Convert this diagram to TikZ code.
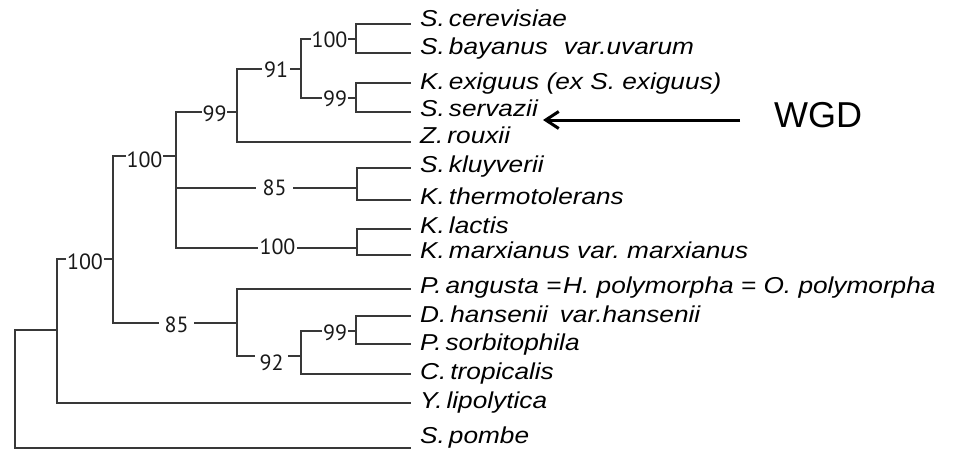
\documentclass[tikz,border=0pt]{standalone}
\usepackage{fontspec}
\setmainfont{Liberation Sans}
\newfontfamily\numfont{PT Sans}
\usetikzlibrary{arrows.meta}
\newcommand\gsp{\kern3.5pt}
\newcommand\spx[1]{\scalebox{1.14}[1]{#1}}
\frenchspacing
\begin{document}
\begin{tikzpicture}[x=1pt,y=-1pt,
  br/.style={line width=1.4pt,draw=black!78,line cap=rect},
  lab/.style={font=\numfont\fontsize{22}{24}\selectfont,inner ysep=0pt,inner xsep=1.5pt,text=black!90},
  sp/.style={font=\itshape\fontsize{23}{26}\selectfont,anchor=base west,inner sep=0pt}]
\useasboundingbox (0,0) rectangle (959,452);
% leaf tips
\coordinate (t1) at (410,24);
\coordinate (t2) at (410,53);
\coordinate (t3) at (410,83);
\coordinate (t4) at (410,112);
\coordinate (t5) at (410,142);
\coordinate (t6) at (410,168);
\coordinate (t7) at (410,200);
\coordinate (t8) at (410,229);
\coordinate (t9) at (410,255);
\coordinate (t10) at (410,289);
\coordinate (t11) at (410,316);
\coordinate (t12) at (410,344);
\coordinate (t13) at (410,374);
\coordinate (t14) at (410,403);
\coordinate (t15) at (410,448);
% internal nodes
\coordinate (G) at (356,39);
\coordinate (H) at (356,98);
\coordinate (F) at (301,69);
\coordinate (E) at (237,112);
\coordinate (K1) at (357,188);
\coordinate (K2) at (357,248);
\coordinate (C) at (176,156);
\coordinate (J) at (356,331);
\coordinate (I) at (301,356);
\coordinate (D) at (237,323);
\coordinate (B) at (113,259);
\coordinate (A) at (57,330);
\coordinate (R) at (15,330);
% species names
\node[sp] (n1) at (420,27) {\spx{S.\gsp cerevisiae}};
\node[sp] (n2) at (420,55) {\spx{S.\gsp bayanus\hspace{0.6em}var.uvarum}};
\node[sp] (n3) at (420,89) {\spx{K.\gsp exiguus (ex S. exiguus)}};
\node[sp] (n4) at (420,117) {\spx{S.\gsp servazii}};
\node[sp] (n5) at (420,143) {\spx{Z.\gsp rouxii}};
\node[sp] (n6) at (420,172) {\spx{S.\gsp kluyverii}};
\node[sp] (n7) at (420,204) {\spx{K.\gsp thermotolerans}};
\node[sp] (n8) at (420,233) {\spx{K.\gsp lactis}};
\node[sp] (n9) at (420,258) {\spx{K.\gsp marxianus var. marxianus}};
\node[sp] (n10) at (420,293) {\spx{P.\gsp angusta =\kern1.5pt H. polymorpha = O. polymorpha}};
\node[sp] (n11) at (420,322) {\spx{D.\gsp hansenii\hspace{0.45em}var.hansenii}};
\node[sp] (n12) at (420,350) {\spx{P.\gsp sorbitophila}};
\node[sp] (n13) at (420,379) {\spx{C.\gsp tropicalis}};
\node[sp] (n14) at (420,408) {\spx{Y.\gsp lipolytica}};
\node[sp] (n15) at (420,443) {\spx{S.\gsp pombe}};
% support labels
\node[lab] (lA) at (85,262) {100};
\node[lab] (lB) at (144.5,159.5) {100};
\node[lab,inner xsep=6pt] (lB85) at (176.5,325) {85};
\node[lab] (lC99) at (214.5,113.5) {99};
\node[lab,inner xsep=7pt] (lC85) at (274.5,187.5) {85};
\node[lab,inner xsep=2.5pt] (lC100) at (277.5,246.5) {100};
\node[lab,inner xsep=3pt] (lE91) at (276,70) {91};
\node[lab] (lF100) at (329.5,39.5) {100};
\node[lab] (lF99) at (335,98.5) {99};
\node[lab,inner xsep=5pt] (lD92) at (271.5,362.5) {92};
\node[lab] (lI99) at (335,333) {99};
% verticals
\draw[br] (G |- t1) -- (G |- t2);
\draw[br] (H |- t3) -- (H |- t4);
\draw[br] (F |- G) -- (F |- H);
\draw[br] (E |- F) -- (E |- t5);
\draw[br] (K1 |- t6) -- (K1 |- t7);
\draw[br] (K2 |- t8) -- (K2 |- t9);
\draw[br] (C |- E) -- (C |- K2);
\draw[br] (J |- t11) -- (J |- t12);
\draw[br] (I |- J) -- (I |- t13);
\draw[br] (D |- t10) -- (D |- I);
\draw[br] (B |- C) -- (B |- D);
\draw[br] (A |- B) -- (A |- t14);
\draw[br] (R |- A) -- (R |- t15);
% horizontals to leaves
\draw[br] (G |- t1) -- (t1);
\draw[br] (G |- t2) -- (t2);
\draw[br] (H |- t3) -- (t3);
\draw[br] (H |- t4) -- (t4);
\draw[br] (E |- t5) -- (t5);
\draw[br] (K1 |- t6) -- (t6);
\draw[br] (K1 |- t7) -- (t7);
\draw[br] (K2 |- t8) -- (t8);
\draw[br] (K2 |- t9) -- (t9);
\draw[br] (D |- t10) -- (t10);
\draw[br] (J |- t11) -- (t11);
\draw[br] (J |- t12) -- (t12);
\draw[br] (I |- t13) -- (t13);
\draw[br] (A |- t14) -- (t14);
\draw[br] (R |- t15) -- (t15);
% horizontals with labels
\draw[br] (F |- G) -- (lF100.west |- G); \draw[br] (lF100.east |- G) -- (G);
\draw[br] (F |- H) -- (lF99.west |- H); \draw[br] (lF99.east |- H) -- (H);
\draw[br] (E |- F) -- (lE91.west |- F); \draw[br] (lE91.east |- F) -- (F);
\draw[br] (C |- E) -- (lC99.west |- E); \draw[br] (lC99.east |- E) -- (E);
\draw[br] (C |- K1) -- (lC85.west |- K1); \draw[br] (lC85.east |- K1) -- (K1);
\draw[br] (C |- K2) -- (lC100.west |- K2); \draw[br] (lC100.east |- K2) -- (K2);
\draw[br] (I |- J) -- (lI99.west |- J); \draw[br] (lI99.east |- J) -- (J);
\draw[br] (D |- I) -- (lD92.west |- I); \draw[br] (lD92.east |- I) -- (I);
\draw[br] (B |- C) -- (lB.west |- C); \draw[br] (lB.east |- C) -- (C);
\draw[br] (B |- D) -- (lB85.west |- D); \draw[br] (lB85.east |- D) -- (D);
\draw[br] (A |- B) -- (lA.west |- B); \draw[br] (lA.east |- B) -- (B);
\draw[br] (R |- A) -- (A);
% WGD
\node[font=\fontsize{36}{40}\selectfont,anchor=west,inner sep=0pt] (wgd) at (774,115.5) {WGD};
\coordinate (wtip) at (543,120);
\draw[line width=3pt,-{Straight Barb[length=13pt,width=17pt]}] (740,120) -- (wtip);
\end{tikzpicture}
\end{document}
